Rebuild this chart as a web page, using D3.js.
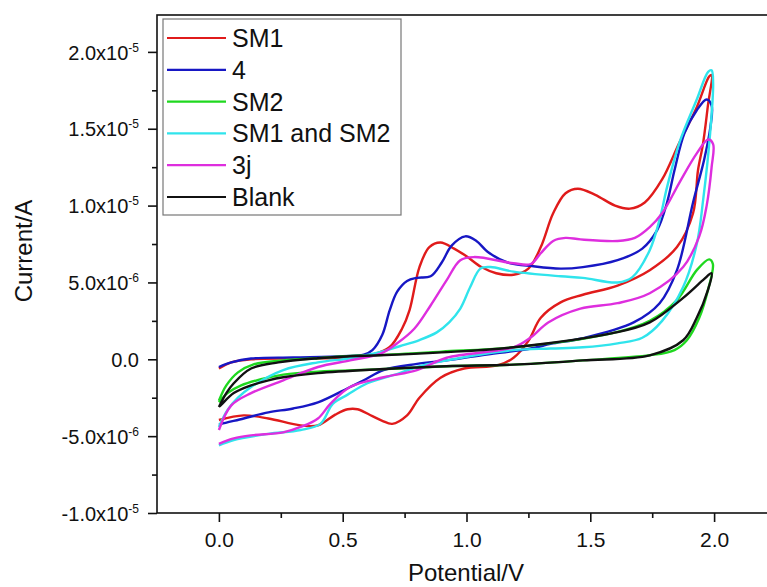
<!DOCTYPE html>
<html>
<head>
<meta charset="utf-8">
<script src="https://cdn.jsdelivr.net/npm/d3@7"></script>
<style>
  body { margin: 0; background: #fff; }
  svg { display: block; font-family: "Liberation Sans", Arial, sans-serif; }
</style>
</head>
<body>
<svg width="767" height="587"></svg>
<script>
// cyclic voltammograms, points are [potential V, current in 1e-6 A]
// each run goes 0 -> 2.0 V and back to 0
const seriesNames = ['SM1', '4', 'SM2', 'SM1 and SM2', '3j', 'Blank']
const seriesColors = ['#e01b1b', '#1717c4', '#1fd81f', '#30e4ec', '#de2ede', '#111111']

const sm1 = [[0,-0.6],[0.05,-0.2],[0.13,0.0],[0.3,0.05],[0.5,0.1],[0.62,0.3],[0.69,0.8],[0.74,2.0],[0.77,3.2],[0.81,6.0],[0.85,7.3],[0.895,7.6],
  [0.95,7.2],[1.0,6.7],[1.06,6.0],[1.12,5.6],[1.19,5.5],[1.25,5.9],[1.30,7.3],[1.35,9.5],[1.40,10.8],[1.45,11.1],[1.52,10.7],[1.60,10.0],
  [1.66,9.8],[1.72,10.2],[1.79,11.7],[1.86,14.1],[1.93,16.4],[1.98,18.4],[1.99,18.5],[1.975,16.5],[1.955,14.0],[1.935,12.3],[1.915,9.5],
  [1.85,7.3],[1.74,5.8],[1.61,4.8],[1.47,4.2],[1.38,3.7],[1.30,2.7],[1.25,1.2],[1.19,0.1],[1.125,-0.4],[0.99,-0.6],[0.895,-1.2],[0.81,-2.5],
  [0.76,-3.65],[0.70,-4.2],[0.66,-4.0],[0.62,-3.7],[0.56,-3.25],[0.52,-3.25],[0.47,-3.6],[0.40,-4.3],[0.33,-4.3],[0.2,-3.85],[0.1,-3.65],[0,-3.95]]

const cpd4 = [[0,-0.5],[0.05,-0.2],[0.13,0.05],[0.3,0.12],[0.5,0.2],[0.585,0.3],[0.62,0.6],[0.66,1.6],[0.69,3.2],[0.72,4.4],[0.76,5.1],[0.80,5.3],
  [0.855,5.4],[0.90,6.3],[0.94,7.4],[0.995,8.0],[1.04,7.7],[1.085,7.0],[1.165,6.3],[1.27,6.05],[1.38,5.9],[1.47,6.0],[1.61,6.45],[1.71,7.2],
  [1.77,8.4],[1.81,10.2],[1.84,12.3],[1.88,14.7],[1.93,16.2],[1.97,16.9],[1.99,16.5],[1.985,15.1],[1.96,13.0],[1.915,10.2],[1.85,5.8],
  [1.78,3.65],[1.675,2.4],[1.47,1.37],[1.34,1.0],[1.26,0.7],[1.06,0.26],[0.92,-0.07],[0.8,-0.3],[0.665,-0.7],[0.585,-1.37],[0.53,-1.8],
  [0.4,-2.8],[0.3,-3.2],[0.2,-3.45],[0.10,-3.85],[0.01,-4.2],[0,-4.25]]

const sm2 = [[0,-2.7],[0.03,-1.7],[0.077,-0.85],[0.14,-0.33],[0.26,-0.07],[0.4,0.07],[0.53,0.22],[0.65,0.28],[0.9,0.5],[1.19,0.78],
  [1.59,1.7],[1.74,2.5],[1.85,3.85],[1.93,5.8],[1.98,6.5],[1.995,6.2],[1.975,4.5],[1.94,2.7],[1.89,1.24],[1.84,0.6],[1.74,0.26],
  [1.47,-0.07],[1.19,-0.35],[0.92,-0.45],[0.65,-0.65],[0.4,-0.8],[0.26,-1.0],[0.17,-1.3],[0.09,-1.7],[0.035,-2.2],[0,-2.8]]

const sm1sm2 = [[0,-4.4],[0.035,-3.3],[0.077,-2.5],[0.13,-1.8],[0.26,-0.7],[0.40,-0.2],[0.53,0.07],[0.65,0.46],[0.73,0.85],[0.81,1.25],
  [0.88,1.75],[0.93,2.4],[0.975,3.3],[1.015,4.7],[1.056,5.9],[1.097,6.0],[1.19,5.7],[1.38,5.4],[1.47,5.3],[1.61,5.0],[1.67,5.35],[1.74,7.1],
  [1.78,9.1],[1.81,11.2],[1.86,14.1],[1.93,16.9],[1.976,18.7],[1.99,18.8],[1.996,18.0],[1.984,14.7],[1.956,10.4],[1.93,7.5],[1.875,4.7],
  [1.79,2.5],[1.71,1.4],[1.61,1.04],[1.47,0.78],[1.34,0.7],[1.19,0.6],[0.92,-0.07],[0.8,-0.5],[0.73,-0.9],[0.6,-1.56],[0.52,-2.3],
  [0.46,-2.9],[0.41,-4.2],[0.33,-4.6],[0.2,-4.85],[0.06,-5.25],[0,-5.6]]

const cpd3j = [[0,-4.6],[0.05,-3.0],[0.13,-2.2],[0.26,-1.37],[0.4,-0.5],[0.53,-0.07],[0.65,0.35],[0.72,1.04],[0.79,2.0],[0.855,3.5],
  [0.92,5.15],[0.975,6.45],[1.03,6.65],[1.19,6.25],[1.26,6.2],[1.30,6.9],[1.35,7.7],[1.40,7.9],[1.46,7.8],[1.61,7.7],[1.68,7.9],[1.74,8.6],
  [1.79,9.5],[1.86,11.5],[1.93,13.4],[1.976,14.3],[1.996,14.0],[1.99,12.5],[1.97,10.0],[1.94,8.0],[1.875,6.0],[1.74,4.3],[1.61,3.65],
  [1.46,3.3],[1.33,2.4],[1.26,1.43],[1.19,0.78],[0.92,0.1],[0.80,-0.7],[0.665,-1.17],[0.53,-1.8],[0.45,-2.9],[0.40,-3.85],[0.33,-4.4],
  [0.26,-4.75],[0.13,-4.95],[0.06,-5.15],[0,-5.5]]

const blank = [[0,-3.1],[0.03,-2.2],[0.06,-1.56],[0.13,-0.6],[0.24,-0.2],[0.4,0.07],[0.53,0.2],[0.65,0.26],[0.9,0.45],[1.19,0.78],
  [1.59,1.7],[1.74,2.4],[1.875,4.0],[1.955,5.15],[1.99,5.6],[1.975,4.5],[1.93,2.7],[1.875,1.24],[1.74,0.26],[1.47,-0.07],[1.19,-0.35],
  [0.92,-0.45],[0.65,-0.65],[0.4,-0.9],[0.26,-1.17],[0.2,-1.37],[0.13,-1.7],[0.06,-2.2],[0.01,-2.95],[0,-3.1]]

const allSeries = [sm1, cpd4, sm2, sm1sm2, cpd3j, blank]

const xTicks = [0, 0.5, 1.0, 1.5, 2.0]
const yTicks = [-1e-5, -5e-6, 0, 5e-6, 1e-5, 1.5e-5, 2e-5]

const margin = {top: 15, left: 157, bottom: 513, right: 776}

const svg = d3.select('svg')

const x = d3.scaleLinear().domain([-0.25, 2.25]).range([margin.left, margin.right])
const y = d3.scaleLinear().domain([-1e-5, 2.24e-5]).range([margin.bottom, margin.top])

svg.append('clipPath').attr('id', 'plotclip')
  .append('rect')
  .attr('x', margin.left).attr('y', margin.top)
  .attr('width', margin.right - margin.left).attr('height', margin.bottom - margin.top)

// curves
const line = d3.line()
  .x(d => x(d[0]))
  .y(d => y(d[1] * 1e-6))
  .curve(d3.curveCatmullRom.alpha(0.5))

svg.append('g')
  .attr('clip-path', 'url(#plotclip)')
  .selectAll('path')
  .data(allSeries)
  .join('path')
    .attr('d', line)
    .attr('fill', 'none')
    .attr('stroke', (d, i) => seriesColors[i])
    .attr('stroke-width', 2.4)
    .attr('stroke-linejoin', 'round')

// frame
svg.append('rect')
  .attr('x', margin.left).attr('y', margin.top)
  .attr('width', margin.right - margin.left).attr('height', margin.bottom - margin.top)
  .attr('fill', 'none').attr('stroke', '#111').attr('stroke-width', 1.6)

// x axis
const xAxis = svg.append('g')
  .attr('transform', `translate(0,${margin.bottom})`)
  .call(d3.axisBottom(x).tickValues(xTicks).tickSize(9).tickPadding(10).tickFormat(d3.format('.1f')))
xAxis.select('.domain').remove()
xAxis.selectAll('line').attr('stroke', '#111').attr('stroke-width', 1.6)
xAxis.selectAll('text').attr('font-size', 21).attr('fill', '#111').attr('font-family', null)

svg.append('g')
  .attr('transform', `translate(0,${margin.bottom})`)
  .call(d3.axisBottom(x).tickValues([0.25, 0.75, 1.25, 1.75]).tickSize(5).tickFormat(''))
  .call(g => g.select('.domain').remove())
  .selectAll('line').attr('stroke', '#111').attr('stroke-width', 1.6)

// y axis
const yAxis = svg.append('g')
  .attr('transform', `translate(${margin.left},0)`)
  .call(d3.axisLeft(y).tickValues(yTicks).tickSize(9).tickPadding(9).tickFormat(''))
yAxis.select('.domain').remove()
yAxis.selectAll('line').attr('stroke', '#111').attr('stroke-width', 1.6)

yAxis.selectAll('.tick text')
  .attr('font-size', 20)
  .attr('fill', '#111')
  .attr('font-family', null)
  .attr('dy', '0.36em')
  .each(function(d) {
    const t = d3.select(this)
    if (d === 0) {
      t.text('0.0')
      return
    }
    const e = Math.floor(Math.log10(Math.abs(d)) + 1e-9)
    const m = (d / Math.pow(10, e)).toFixed(1)
    t.append('tspan').text(`${m}x10`)
    t.append('tspan').attr('dy', -8).attr('font-size', 12).text(`${e}`)
  })

svg.append('g')
  .attr('transform', `translate(${margin.left},0)`)
  .call(d3.axisLeft(y).tickValues([-7.5e-6, -2.5e-6, 2.5e-6, 7.5e-6, 1.25e-5, 1.75e-5]).tickSize(5).tickFormat(''))
  .call(g => g.select('.domain').remove())
  .selectAll('line').attr('stroke', '#111').attr('stroke-width', 1.6)

// axis titles
svg.append('text')
  .attr('x', 466).attr('y', 581)
  .attr('text-anchor', 'middle')
  .attr('font-size', 24)
  .attr('fill', '#111')
  .text('Potential/V')

svg.append('text')
  .attr('transform', 'translate(32,251) rotate(-90)')
  .attr('text-anchor', 'middle')
  .attr('font-size', 24)
  .attr('fill', '#111')
  .text('Current/A')

// legend
const legend = svg.append('g')
legend.append('rect')
  .attr('x', 163).attr('y', 19)
  .attr('width', 238).attr('height', 196)
  .attr('fill', '#fff').attr('stroke', '#777').attr('stroke-width', 1.2)

const item = legend.selectAll('.item')
  .data(seriesNames)
  .join('g')
    .attr('class', 'item')
    .attr('transform', (d, i) => `translate(0,${38 + i * 31.8})`)
item.append('line')
  .attr('x1', 167).attr('x2', 226)
  .attr('stroke', (d, i) => seriesColors[i])
  .attr('stroke-width', 2.2)
item.append('text')
  .attr('x', 232).attr('dy', '0.36em')
  .attr('font-size', 25)
  .attr('fill', '#111')
  .text(d => d)
</script>
</body>
</html>
